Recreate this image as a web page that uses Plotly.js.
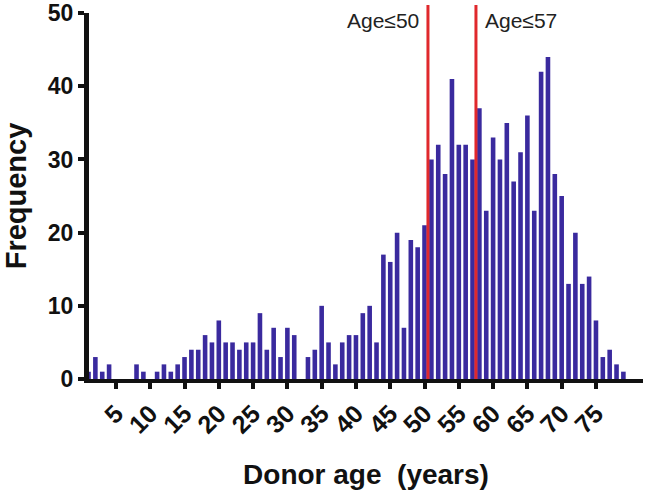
<!DOCTYPE html>
<html>
<head>
<meta charset="utf-8">
<script src="https://cdn.plot.ly/plotly-3.0.1.min.js"></script>
<style>html,body{margin:0;padding:0;background:#fff;}#chart{width:646px;height:490px;}</style>
</head>
<body>
<div id="chart"></div>
<script>
const ages = [1,2,3,4,5,6,7,8,9,10,11,12,13,14,15,16,17,18,19,20,21,22,23,24,25,26,27,28,29,30,31,32,33,34,35,36,37,38,39,40,41,42,43,44,45,46,47,48,49,50,51,52,53,54,55,56,57,58,59,60,61,62,63,64,65,66,67,68,69,70,71,72,73,74,75,76,77,78,79];
const frequency = [1,3,1,2,0,0,0,2,1,0,1,2,1,2,3,4,4,6,5,8,5,5,4,5,5,9,4,7,3,7,6,0,3,4,10,5,2,5,6,6,9,10,5,17,16,20,7,19,18,21,30,32,28,41,32,32,30,37,23,33,30,35,27,31,36,23,42,44,28,25,13,20,13,14,8,3,4,2,1];
const xTicks = [5,10,15,20,25,30,35,40,45,50,55,60,65,70,75];
const yTicks = [0,10,20,30,40,50];
const cutoffs = [50.5, 57.5];
const cutoffLabels = ['Age\u226450', 'Age\u226457'];

const FONT = 'Liberation Sans, Arial, Helvetica, sans-serif';

const shapes = cutoffs.map(c => ({
  type: 'line', xref: 'x', yref: 'paper', x0: c, x1: c, y0: 0, y1: 1.022,
  line: {color: '#e0282c', width: 3}
}));

const annotations = [
  {text: cutoffLabels[0], xref: 'x', yref: 'y', x: cutoffs[0], y: 49, xanchor: 'right', yanchor: 'middle', xshift: -7, showarrow: false, font: {family: FONT, size: 21, color: '#222'}},
  {text: cutoffLabels[1], xref: 'x', yref: 'y', x: cutoffs[1], y: 49, xanchor: 'left', yanchor: 'middle', xshift: 7, showarrow: false, font: {family: FONT, size: 21, color: '#222'}}
];

const trace = {
  type: 'bar', x: ages, y: frequency,
  marker: {color: '#3a2a9e', line: {width: 0}},
  hoverinfo: 'x+y'
};

const layout = {
  width: 646, height: 490,
  margin: {l: 89, r: 3, t: 13, b: 111},
  paper_bgcolor: '#fff', plot_bgcolor: '#fff',
  bargap: 0.33,
  showlegend: false,
  font: {family: FONT, color: '#111'},
  xaxis: {
    range: [1.07, 81.86],
    tickmode: 'array', tickvals: xTicks, ticktext: xTicks.map(String),
    tickangle: -45,
    ticks: 'outside', ticklen: 6, tickwidth: 4, tickcolor: '#111',
    showline: true, linecolor: '#111', linewidth: 4,
    showgrid: false, zeroline: false,
    ticklabeloverflow: 'allow',
    tickfont: {family: FONT, size: 25, weight: 'bold', color: '#111'},
    title: {text: 'Donor age\u00a0 (years)', font: {family: FONT, size: 28, weight: 'bold', color: '#111'}, standoff: 28}
  },
  yaxis: {
    range: [0, 50.02],
    tickmode: 'array', tickvals: yTicks, ticktext: yTicks.map(String),
    ticks: 'outside', ticklen: 6, tickwidth: 4, tickcolor: '#111',
    showline: true, linecolor: '#111', linewidth: 5,
    showgrid: false, zeroline: false,
    ticklabeloverflow: 'allow',
    tickfont: {family: FONT, size: 23, weight: 'bold', color: '#111'},
    title: {text: 'Frequency', font: {family: FONT, size: 29, weight: 'bold', color: '#111'}, standoff: 19}
  },
  shapes: shapes,
  annotations: annotations
};

Plotly.newPlot('chart', [trace], layout, {displayModeBar: false, staticPlot: true});
</script>
</body>
</html>
